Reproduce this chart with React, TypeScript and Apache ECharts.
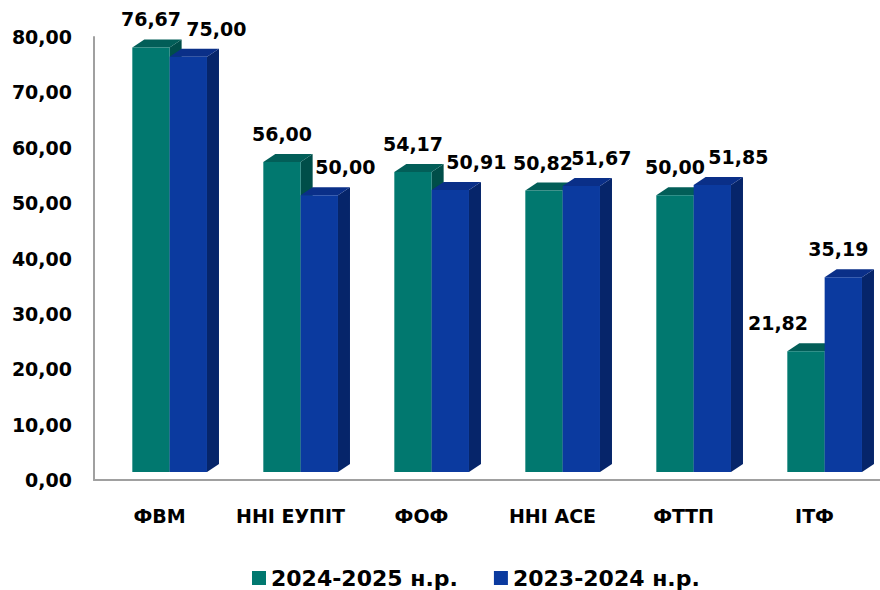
import React, { useEffect, useRef } from "react";
import * as echarts from "echarts";

const categories = ["ФВМ", "ННІ ЕУПІТ", "ФОФ", "ННІ АСЕ", "ФТТП", "ІТФ"];
const values2425 = [76.67, 56.0, 54.17, 50.82, 50.0, 21.82];
const values2324 = [75.0, 50.0, 50.91, 51.67, 51.85, 35.19];
const seriesNames = ["2024-2025 н.р.", "2023-2024 н.р."];
const yMin = 0;
const yMax = 80;
const yInterval = 10;

// layout / style constants
const FONT = "DejaVu Sans";
const faceColors = [
  { front: "#01786F", top: "#025E58", side: "#004E49" },
  { front: "#0B3A9F", top: "#0A2F88", side: "#06256A" },
];
const labelDx = [
  [0, 0, 0, -1, 0, -28],
  [28, 26, 26, 20, 26, -5],
];
const DX = 12;
const DY = 8;
const LIFT = 8;

const fmt = (v: number) => v.toFixed(2).replace(".", ",");

function makeRender(si: number) {
  return (params: any, api: any) => {
    const ci = api.value(0);
    const v = api.value(1);
    const p0 = api.coord([ci, 0]);
    const pv = api.coord([ci, v]);
    const band = api.size([1, 0])[0];
    const w = band * 0.285;
    const groupCenter = p0[0] + band * 0.0775;
    const left = si === 0 ? groupCenter - w : groupCenter;
    const base = p0[1] - LIFT;
    const top = pv[1] - LIFT;
    const c = faceColors[si];
    return {
      type: "group",
      children: [
        {
          type: "polygon",
          shape: {
            points: [
              [left + w, top],
              [left + w + DX, top - DY],
              [left + w + DX, base - DY],
              [left + w, base],
            ],
          },
          style: { fill: c.side },
        },
        {
          type: "polygon",
          shape: {
            points: [
              [left, top],
              [left + DX, top - DY],
              [left + w + DX, top - DY],
              [left + w, top],
            ],
          },
          style: { fill: c.top },
        },
        {
          type: "rect",
          shape: { x: left, y: top, width: w, height: base - top },
          style: { fill: c.front },
        },
        {
          type: "text",
          x: left + w / 2 + labelDx[si][ci],
          y: top - 28,
          style: {
            text: fmt(v),
            fill: "#000",
            font: `bold 19px "${FONT}"`,
            textAlign: "center",
            textVerticalAlign: "middle",
          },
        },
      ],
    };
  };
}

export default function App() {
  const ref = useRef<HTMLDivElement>(null);
  useEffect(() => {
    document.body.style.margin = "0";
    const chart = echarts.init(ref.current!, null, { renderer: "svg" });
    const allSeries = [values2425, values2324];
    chart.setOption({
      animation: false,
      backgroundColor: "#fff",
      grid: { left: 94, right: -4, top: 37, bottom: 110, containLabel: false },
      xAxis: {
        type: "category",
        data: categories,
        axisLine: { show: true, lineStyle: { color: "#A0A0A0", width: 2 } },
        axisTick: { show: false },
        axisLabel: {
          interval: 0,
          margin: 26,
          color: "#000",
          fontFamily: FONT,
          fontWeight: "bold",
          fontSize: 19,
        },
      },
      yAxis: {
        type: "value",
        min: yMin,
        max: yMax,
        interval: yInterval,
        axisLine: { show: true, lineStyle: { color: "#A0A0A0", width: 2 } },
        axisTick: { show: false },
        splitLine: { show: false },
        axisLabel: {
          margin: 22,
          color: "#000",
          fontFamily: FONT,
          fontWeight: "bold",
          fontSize: 19,
          formatter: (v: number) => fmt(v),
        },
      },
      legend: {
        left: 252,
        top: 565,
        itemWidth: 14,
        itemHeight: 14,
        itemGap: 36,
        icon: "rect",
        padding: 0,
        textStyle: {
          color: "#000",
          fontFamily: FONT,
          fontWeight: "bold",
          fontSize: 22,
          lineHeight: 26,
        },
        data: seriesNames,
      },
      series: allSeries.map((vals, si) => ({
        type: "custom",
        name: seriesNames[si],
        itemStyle: { color: faceColors[si].front },
        renderItem: makeRender(si),
        data: vals.map((v, i) => [i, v]),
        encode: { x: 0, y: 1 },
      })),
    });
    return () => chart.dispose();
  }, []);
  return <div ref={ref} style={{ width: 880, height: 590 }} />;
}
